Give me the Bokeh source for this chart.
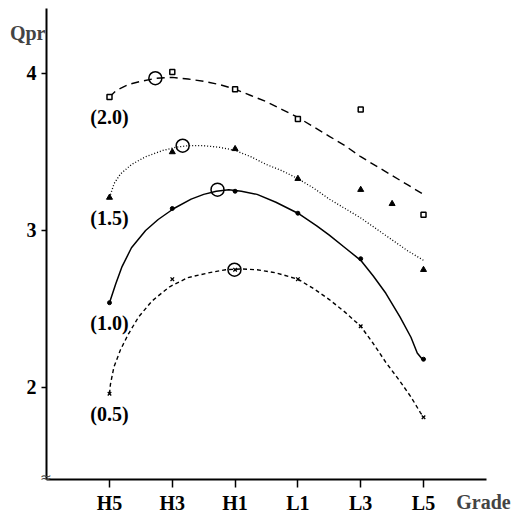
from bokeh.plotting import figure
from bokeh.models import FixedTicker, Label, Range1d
from bokeh.core.properties import value
from bokeh.embed import file_html
from bokeh.resources import INLINE

# ---- data (grade index: 0=H5, 2=H3, 4=H1, 6=L1, 8=L3, 10=L5) ----
tick_pos = [0, 2, 4, 6, 8, 10]
tick_labels = ["H5", "H3", "H1", "L1", "L3", "L5"]
y_ticks = [2, 3, 4]
series_labels = ["(2.0)", "(1.5)", "(1.0)", "(0.5)"]

# measured points
x20 = [0, 2, 4, 6, 8, 10]
y20 = [3.85, 4.01, 3.90, 3.71, 3.77, 3.10]
x15 = [0, 2, 4, 6, 8, 9, 10]
y15 = [3.21, 3.50, 3.52, 3.33, 3.26, 3.17, 2.75]
x10 = [0, 2, 4, 6, 8, 10]
y10 = [2.54, 3.14, 3.25, 3.11, 2.82, 2.18]
x05 = [0, 2, 4, 6, 8, 10]
y05 = [1.96, 2.69, 2.75, 2.69, 2.39, 1.81]

# fitted curves
cx20 = [0, 0.2, 0.6, 1.0, 1.5, 2.0, 2.5, 3.0, 3.5, 4.0, 4.5, 5.0, 5.5, 6.0, 6.5, 7.0, 7.5, 8.0, 8.5, 9.0, 9.5, 10.0]
cy20 = [3.85, 3.89, 3.93, 3.95, 3.97, 3.975, 3.965, 3.95, 3.93, 3.90, 3.86, 3.82, 3.77, 3.72, 3.66, 3.60, 3.54, 3.47, 3.41, 3.35, 3.29, 3.23]
cx15 = [0, 0.15, 0.35, 0.7, 1.15, 1.7, 2.1, 2.5, 3.0, 3.5, 4.0, 4.5, 5.0, 5.5, 6.0, 6.5, 7.0, 7.5, 8.0, 8.5, 9.0, 9.5, 10.0]
cy15 = [3.21, 3.30, 3.36, 3.42, 3.47, 3.51, 3.53, 3.54, 3.54, 3.53, 3.51, 3.47, 3.42, 3.38, 3.33, 3.27, 3.20, 3.14, 3.08, 3.01, 2.94, 2.87, 2.81]
cx10 = [0, 0.2, 0.4, 0.7, 1.15, 1.55, 2.05, 2.6, 3.0, 3.4, 3.8, 4.2, 4.7, 5.3, 6.0, 6.6, 7.0, 7.5, 8.0, 8.4, 8.8, 9.25, 9.6, 9.8, 10.0]
cy10 = [2.54, 2.66, 2.77, 2.89, 3.00, 3.07, 3.14, 3.20, 3.23, 3.25, 3.26, 3.25, 3.23, 3.18, 3.11, 3.03, 2.97, 2.89, 2.81, 2.71, 2.60, 2.45, 2.32, 2.22, 2.17]
cx05 = [0, 0.03, 0.14, 0.35, 0.6, 0.93, 1.35, 1.9, 2.5, 3.15, 3.7, 4.2, 4.7, 5.3, 6.0, 6.5, 7.0, 7.5, 8.0, 8.4, 8.8, 9.25, 9.6, 9.9, 10.0]
cy05 = [1.96, 2.02, 2.13, 2.24, 2.34, 2.45, 2.55, 2.64, 2.70, 2.73, 2.75, 2.755, 2.75, 2.73, 2.69, 2.63, 2.56, 2.48, 2.39, 2.28, 2.16, 2.04, 1.94, 1.84, 1.81]

# optimum (circled) points
opt_x = [1.46, 2.33, 3.44, 3.98]
opt_y = [3.97, 3.54, 3.26, 2.75]

FONT = "Liberation Serif"
X_AXIS_AT = 1.414   # y value where the x axis sits (axis is broken)
Y_AXIS_AT = -2.006  # x value where the y axis sits

p = figure(width=512, height=519, output_backend="svg", toolbar_location=None,
           x_range=Range1d(-3.471, 12.834), y_range=Range1d(1.159, 4.465),
           min_border=0)
p.outline_line_color = None
p.grid.visible = False
p.background_fill_color = "white"
p.border_fill_color = "white"

for ax in (p.xaxis[0], p.yaxis[0]):
    ax.axis_line_width = 2
    ax.axis_line_color = "black"
    ax.major_tick_line_width = 1.5
    ax.major_tick_in = 0
    ax.minor_tick_line_color = None
    ax.major_label_text_font = FONT
    ax.major_label_text_font_style = "bold"
    ax.major_label_text_font_size = "20px"
    ax.major_label_text_color = "black"

p.xaxis.fixed_location = X_AXIS_AT
p.xaxis.bounds = (Y_AXIS_AT, 12.006)
p.xaxis.ticker = FixedTicker(ticks=tick_pos)
p.xaxis.major_label_overrides = {t: l for t, l in zip(tick_pos, tick_labels)}
p.xaxis.major_tick_out = 8
p.xaxis.major_label_standoff = 5
p.yaxis.fixed_location = Y_AXIS_AT
p.yaxis.bounds = (X_AXIS_AT, 4.414)
p.yaxis.ticker = FixedTicker(ticks=y_ticks)
p.yaxis.major_tick_out = 5
p.yaxis.major_label_standoff = 5

# curves
p.line(cx20, cy20, line_color="black", line_width=1.4, line_dash="8 5")
p.line(cx15, cy15, line_color="black", line_width=1.3, line_dash="1 2")
p.line(cx10, cy10, line_color="black", line_width=1.5)
p.line(cx05, cy05, line_color="black", line_width=1.4, line_dash="4 3")

# markers
p.scatter(x20, y20, marker="square", size=5, fill_color="white", line_color="black", line_width=1.5)
p.scatter(x15, y15, marker="triangle", size=6, fill_color="black", line_color="black")
p.scatter(x10, y10, marker="circle", size=4, fill_color="black", line_color="black")
p.scatter(x05, y05, marker="x", size=5, line_color="black", line_width=1.3)
p.scatter(opt_x, opt_y, marker="circle", size=13, fill_alpha=0, line_color="black", line_width=1.5)

# series labels under the first point of each curve
start_y = [y20[0], y15[0], y10[0], y05[0]]
p.text(x=[0] * 4, y=[v - 0.13 for v in start_y], text=series_labels,
       text_font=value(FONT), text_font_style="bold", text_font_size="20px",
       text_align="center", text_baseline="middle", text_color="black")

p.add_layout(Label(x=-2.04, y=4.255, text="Qpr", text_font=FONT, text_font_style="bold",
                   text_font_size="20px", text_align="right", text_baseline="middle"))
p.add_layout(Label(x=11.91, y=1.268, text="Grade", text_font=FONT, text_font_style="bold",
                   text_font_size="20px", text_align="center", text_baseline="middle"))
p.add_layout(Label(x=-2.03, y=1.43, text="≈", text_font="DejaVu Sans",
                   text_font_size="14px", text_align="center", text_baseline="middle"))

open("out.html", "w").write(file_html(p, INLINE))
